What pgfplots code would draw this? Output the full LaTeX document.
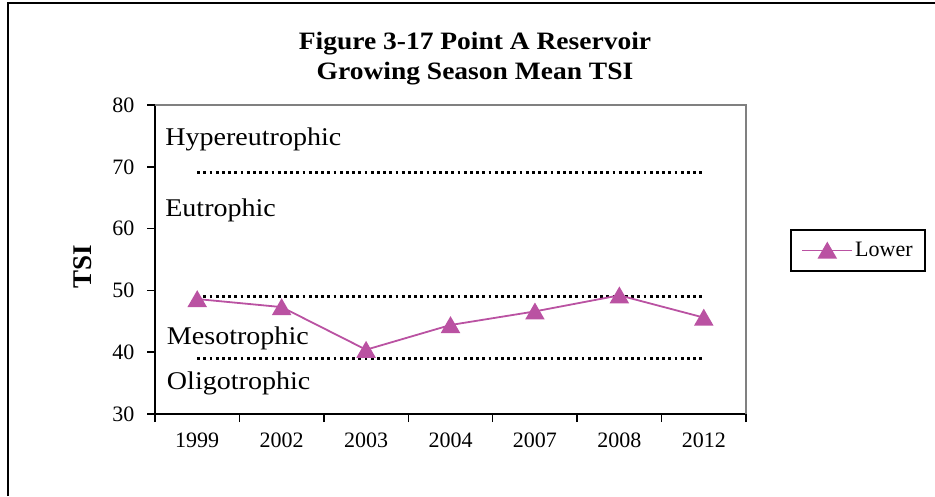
\documentclass[border=0pt]{standalone}
\usepackage{pgfplots}
\pgfplotsset{compat=1.18}
\usepackage{fontspec}
\setmainfont{Liberation Serif}[FakeStretch=1.1]
\newfontfamily\uprightserif{Liberation Serif}
\definecolor{tsiline}{RGB}{186,82,162}
\definecolor{framegray}{RGB}{128,128,128}

\begin{document}
\begin{tikzpicture}[x=1pt,y=1pt]
\useasboundingbox (0,0) rectangle (935,496);
% outer chart frame
\draw[line width=2pt] (8,0) -- (8,493) -- (935,493);
% title and y axis label
\node[font=\fontsize{25}{30}\selectfont\bfseries, align=center] at (475,437)
  {Figure 3-17 Point A Reservoir\\Growing Season Mean TSI};
\node[font=\uprightserif\fontsize{27}{30}\selectfont\bfseries, rotate=90] at (83,229) {TSI};
\begin{axis}[
  at={(155pt,82pt)}, anchor=south west,
  scale only axis, width=591pt, height=309pt,
  xmin=-0.5, xmax=6.5, ymin=30, ymax=80,
  xtick={-0.5,0.5,...,6.5},
  xticklabels={1999,2002,2003,2004,2007,2008,2012},
  x tick label as interval,
  ytick={30,40,...,80},
  tick align=outside, major tick length=8pt,
  tick style={black, line width=1.5pt},
  axis x line*=bottom, axis y line*=left,
  axis line style={black, line width=2pt, -},
  ticklabel style={font=\uprightserif\fontsize{22}{26}\selectfont},
  yticklabel style={xshift=-9pt},
  xticklabel style={yshift=-7pt},
  /pgf/number format/assume math mode=true,
  clip=false,
  legend style={at={(1.1895,0.529)}, anchor=center, draw=black, line width=2pt,
    font=\uprightserif\fontsize{22}{26}\selectfont, inner xsep=10pt, inner ysep=11pt},
  legend image code/.code={
    \draw[mark repeat=2, mark phase=2, #1] plot coordinates {(0pt,0pt) (25pt,0pt) (50pt,0pt)};},
  after end axis/.code={
    \draw[framegray, line width=1.5pt] (rel axis cs:0,1) -- (rel axis cs:1,1) -- (rel axis cs:1,0);},
]
% trophic state boundaries
\addplot[black, line width=3pt, dash pattern=on 2.8pt off 3.4pt, forget plot] coordinates {(0,69) (6,69)};
\addplot[black, line width=3pt, dash pattern=on 2.8pt off 3.4pt, forget plot] coordinates {(0,49) (6,49)};
\addplot[black, line width=3pt, dash pattern=on 2.8pt off 3.4pt, forget plot] coordinates {(0,39) (6,39)};
% trophic state names
\node[anchor=base west, font=\fontsize{25.5}{30}\selectfont] at (axis cs:-0.42,73.5) {Hypereutrophic};
\node[anchor=base west, font=\fontsize{25.5}{30}\selectfont] at (axis cs:-0.42,61.9) {Eutrophic};
\node[anchor=base west, font=\fontsize{25.5}{30}\selectfont] at (axis cs:-0.40,41.3) {Mesotrophic};
\node[anchor=base west, font=\fontsize{25.5}{30}\selectfont] at (axis cs:-0.40,33.9) {Oligotrophic};
% growing season mean TSI
\addplot[tsiline, line width=1.8pt, mark=triangle*, mark size=9.5pt,
  mark options={solid, fill=tsiline, draw=tsiline, yshift=-2.4pt}]
  coordinates {(0,48.6) (1,47.3) (2,40.4) (3,44.4) (4,46.6) (5,49.2) (6,45.6)};
\addlegendentry{Lower}
\end{axis}
\end{tikzpicture}
\end{document}
